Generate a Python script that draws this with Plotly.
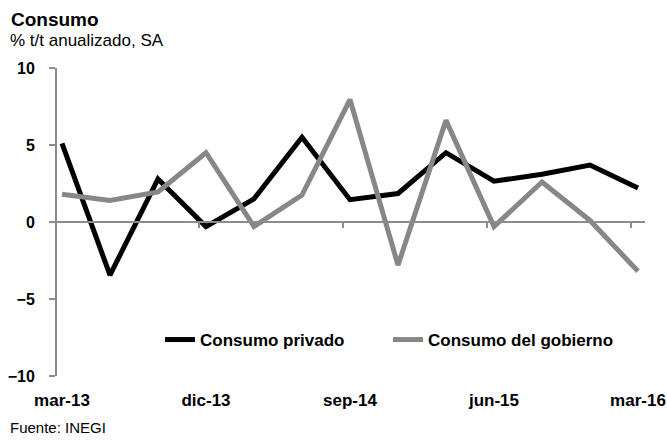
import plotly.graph_objects as go

categories = ["mar-13", "jun-13", "sep-13", "dic-13", "mar-14", "jun-14", "sep-14",
              "dic-14", "mar-15", "jun-15", "sep-15", "dic-15", "mar-16"]
consumo_privado = [5.1, -3.45, 2.8, -0.3, 1.5, 5.5, 1.45, 1.85, 4.5, 2.65, 3.1, 3.7, 2.2]
consumo_gobierno = [1.8, 1.4, 1.95, 4.5, -0.3, 1.75, 7.95, -2.8, 6.6, -0.3, 2.6, 0.1, -3.2]
tick_labels = categories[::3]
y_ticks = [-10, -5, 0, 5, 10]

FONT = "Liberation Sans, Arial, sans-serif"
AXIS_GREY = "#8c8c8c"

x_idx = list(range(len(categories)))
tick_idx = x_idx[::3]
between_ticks = [i - 0.15 for i in tick_idx[1:]]
xr = [-0.104, 12.146]

fig = go.Figure()
fig.add_trace(go.Scatter(x=x_idx, y=consumo_privado, mode="lines", name="Consumo privado",
                         line=dict(color="#000000", width=5)))
fig.add_trace(go.Scatter(x=x_idx, y=consumo_gobierno, mode="lines", name="Consumo del gobierno",
                         line=dict(color="#878787", width=5)))
fig.add_trace(go.Scatter(x=[None], y=[None], xaxis="x2", showlegend=False, hoverinfo="skip"))

fig.update_layout(
    width=667, height=441,
    margin=dict(l=57, r=22, t=68, b=65),
    paper_bgcolor="white", plot_bgcolor="white",
    font=dict(family=FONT, color="#000000"),
    showlegend=True,
    legend=dict(orientation="h", x=(160 - 57) / 588, xanchor="left",
                y=(376 - 340) / 308, yanchor="middle",
                font=dict(size=17, weight="bold", family=FONT),
                bgcolor="rgba(0,0,0,0)", entrywidth=183, entrywidthmode="pixels",
                traceorder="normal"),
    xaxis=dict(range=xr, tickmode="array", tickvals=tick_idx, ticktext=tick_labels,
               showline=False, ticks="", showgrid=False, zeroline=False,
               tickfont=dict(size=17, weight="bold", family=FONT),
               ticklabelstandoff=12, automargin=False),
    xaxis2=dict(range=xr, overlaying="x", anchor="free", position=0.5, side="bottom",
                showline=True, linecolor=AXIS_GREY, linewidth=2,
                tickmode="array", tickvals=between_ticks, ticks="outside",
                ticklen=5, tickcolor=AXIS_GREY, tickwidth=1.5,
                showticklabels=False, showgrid=False, zeroline=False, automargin=False),
    yaxis=dict(range=[-10, 10], tickmode="array", tickvals=y_ticks,
               showline=True, linecolor=AXIS_GREY, linewidth=2,
               ticks="outside", ticklen=6, tickcolor=AXIS_GREY, tickwidth=1.5,
               showgrid=False, zeroline=False,
               tickfont=dict(size=16, weight="bold", family=FONT),
               ticklabelstandoff=11, automargin=False),
)

def px_x(px):
    return (px - 57) / 588

def px_y(py):
    return (376 - py) / 308

fig.add_annotation(text="<b>Consumo</b>", x=px_x(9), y=px_y(20), xref="paper", yref="paper",
                   xanchor="left", yanchor="middle", showarrow=False,
                   font=dict(size=19, family=FONT, color="#000000"))
fig.add_annotation(text="% t/t anualizado, SA", x=px_x(8), y=px_y(40), xref="paper", yref="paper",
                   xanchor="left", yanchor="middle", showarrow=False,
                   font=dict(size=17, family=FONT, color="#000000"))
fig.add_annotation(text="Fuente: INEGI", x=px_x(8), y=px_y(427), xref="paper", yref="paper",
                   xanchor="left", yanchor="middle", showarrow=False,
                   font=dict(size=15, family=FONT, color="#000000"))

fig.write_html("out.html", config={"displayModeBar": False},
               post_script="document.body.style.margin='0';document.body.style.padding='0';")
